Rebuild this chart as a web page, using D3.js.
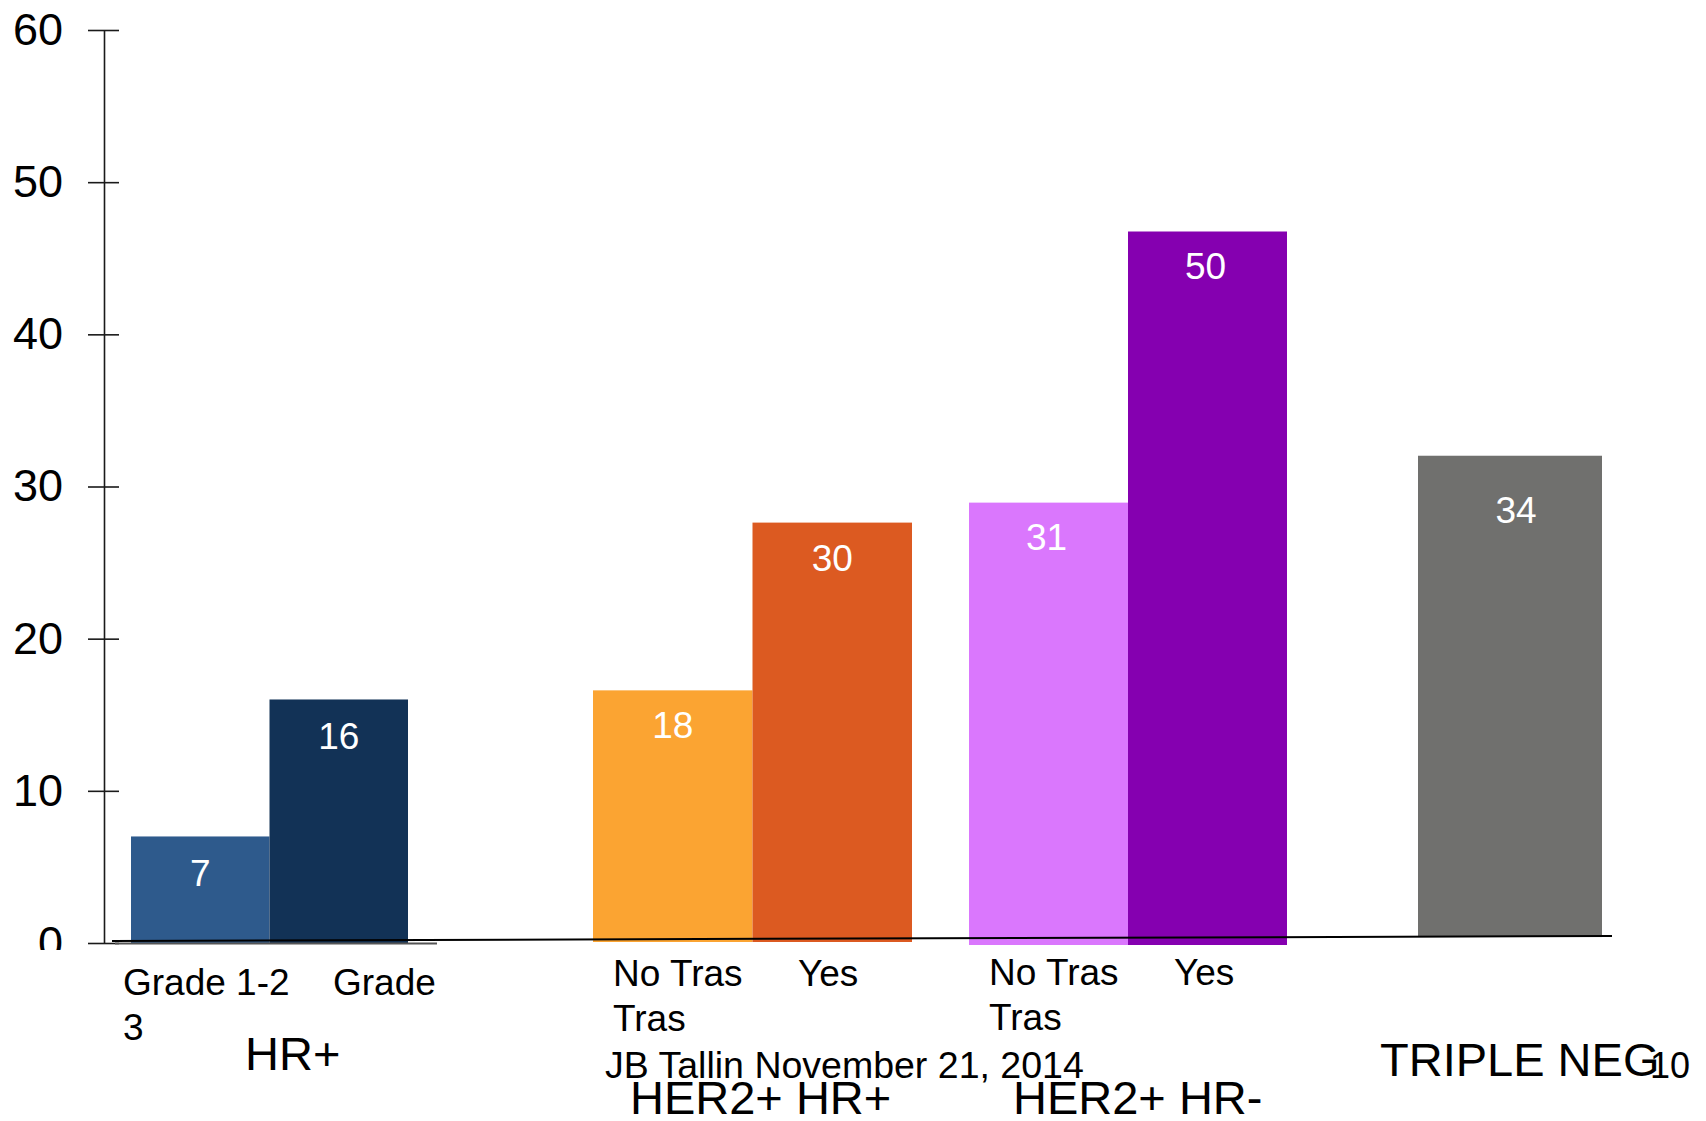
<!DOCTYPE html>
<html>
<head>
<meta charset="utf-8">
<script src="https://cdn.jsdelivr.net/npm/d3@7"></script>
<style>
  body { margin: 0; background: #fff; }
  svg { display: block; }
  text { font-family: "Liberation Sans", Arial, sans-serif; }
</style>
</head>
<body>
<svg id="chart" width="1706" height="1121"></svg>
<script>
// ---- data ----
const groupNames = ["HR+", "HER2+ HR+", "HER2+ HR-", "TRIPLE NEG"];
const subCategories = [["Grade 1-2", "Grade 3"], ["No Tras", "Yes Tras"], ["No Tras", "Yes Tras"], ["TRIPLE NEG"]];
const values = [[7, 16], [18, 30], [31, 50], [34]];
const yTicks = [0, 10, 20, 30, 40, 50, 60];
const footnote = "JB Tallin November 21, 2014";
const pageNumber = "10";

// ---- styles ----
const colors = [["#2e5a8c", "#123256"], ["#fba432", "#dc5a21"], ["#da77fd", "#8500b0"], ["#70706e"]];
const FONT = "Liberation Sans, Arial, sans-serif";

// ---- layout: each group is its own small panel with its own baseline ----
const panels = [
  { x0: 131, x1: 408, base: 943, pxPerUnit: 15.22, subX: [123, 333], subY: 995, labelDy: 50, labelDx: 0, showSub: true },
  { x0: 593, x1: 912, base: 942, pxPerUnit: 13.98, subX: [613, 798], subY: 986, labelDy: 48, labelDx: 0, showSub: true },
  { x0: 969, x1: 1287, base: 945, pxPerUnit: 14.27, subX: [989, 1174], subY: 985, labelDy: 47, labelDx: -2, showSub: true },
  { x0: 1418, x1: 1602, base: 936.5, pxPerUnit: 14.14, subX: null, subY: 0, labelDy: 67, labelDx: 6, showSub: false }
];
const titlePos = [[245, 1070], [630, 1114], [1013, 1114], [1380, 1076]];

const svg = d3.select("#chart");
svg.append("rect").attr("width", 1706).attr("height", 1121).attr("fill", "#fff");

// ---- value axis ----
const y = d3.scaleLinear().domain([0, 60]).range([943, 30]);

svg.append("defs").append("clipPath").attr("id", "axisClip")
  .append("rect").attr("x", -110).attr("y", 0).attr("width", 260).attr("height", 950);

const axis = d3.axisLeft(y).tickValues(yTicks).tickSize(16).tickSizeOuter(0).tickPadding(25);
const gAxis = svg.append("g")
  .attr("transform", "translate(104,0)")
  .attr("clip-path", "url(#axisClip)")
  .call(axis)
  .attr("font-size", 45)
  .attr("font-family", FONT);
gAxis.select(".domain").attr("stroke", "#1a1a1a").attr("stroke-width", 1.6);
gAxis.selectAll(".tick line").attr("x1", 15).attr("stroke", "#1a1a1a").attr("stroke-width", 1.6);
gAxis.selectAll(".tick text").attr("fill", "#000");

// ---- bars ----
panels.forEach((p, i) => {
  const yScale = d3.scaleLinear().domain([0, 60]).range([p.base, p.base - 60 * p.pxPerUnit]);
  const x = d3.scaleBand().domain(subCategories[i]).range([p.x0, p.x1]).padding(0);
  const rows = subCategories[i].map((c, j) => ({ cat: c, v: values[i][j], color: colors[i][j] }));
  const g = svg.append("g").attr("class", "panel");

  g.selectAll("rect").data(rows).join("rect")
    .attr("x", d => x(d.cat))
    .attr("y", d => yScale(d.v))
    .attr("width", x.bandwidth())
    .attr("height", d => yScale(0) - yScale(d.v))
    .attr("fill", d => d.color);

  g.selectAll("text.val").data(rows).join("text")
    .attr("class", "val")
    .attr("x", d => x(d.cat) + x.bandwidth() / 2 + p.labelDx)
    .attr("y", d => yScale(d.v) + p.labelDy)
    .attr("text-anchor", "middle")
    .attr("font-size", 37)
    .attr("fill", "#fff")
    .text(d => d.v);

  // category labels, wrapped the way the text box wraps them
  if (p.showSub) {
    const first = subCategories[i][0];
    const second = subCategories[i][1];
    const cut = second.lastIndexOf(" ");
    const lines = [
      { t: first, x: p.subX[0], y: p.subY },
      { t: second.slice(0, cut), x: p.subX[1], y: p.subY },
      { t: second.slice(cut + 1), x: p.subX[0], y: p.subY + 45 }
    ];
    g.selectAll("text.sub").data(lines).join("text")
      .attr("class", "sub")
      .attr("x", d => d.x)
      .attr("y", d => d.y)
      .attr("font-size", 37)
      .attr("fill", "#000")
      .text(d => d.t);
  }
});

// ---- baseline drawn over the bars ----
svg.append("line")
  .attr("x1", 115).attr("y1", 943.5).attr("x2", 437).attr("y2", 943.5)
  .attr("stroke", "#555").attr("stroke-width", 2);
svg.append("line")
  .attr("x1", 112).attr("y1", 941).attr("x2", 1612).attr("y2", 936)
  .attr("stroke", "#000").attr("stroke-width", 2);

// ---- footnote, group titles and page number ----
svg.append("text").attr("x", 605).attr("y", 1078)
  .attr("font-size", 37.5).attr("fill", "#000").text(footnote);

svg.selectAll("text.group").data(groupNames).join("text")
  .attr("class", "group")
  .attr("x", (d, i) => titlePos[i][0])
  .attr("y", (d, i) => titlePos[i][1])
  .attr("font-size", 47)
  .attr("fill", "#000")
  .text(d => d);

svg.append("text").attr("x", 1650).attr("y", 1078)
  .attr("font-size", 36).attr("fill", "#000").text(pageNumber);
</script>
</body>
</html>
